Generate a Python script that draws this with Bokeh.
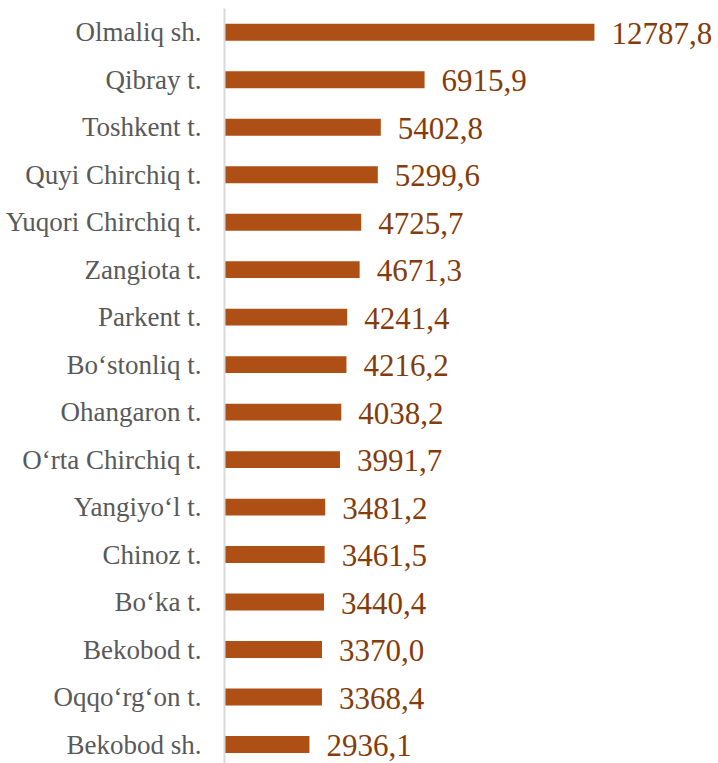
from bokeh.plotting import figure
from bokeh.models import Range1d, FixedTicker, ColumnDataSource, LabelSet
from bokeh.embed import file_html
from bokeh.resources import INLINE

categories = ["Olmaliq sh.", "Qibray t.", "Toshkent t.", "Quyi Chirchiq t.",
              "Yuqori Chirchiq t.", "Zangiota t.", "Parkent t.", "Bo\u2018stonliq t.",
              "Ohangaron t.", "O\u2018rta Chirchiq t.", "Yangiyo\u2018l t.", "Chinoz t.",
              "Bo\u2018ka t.", "Bekobod t.", "Oqqo\u2018rg\u2018on t.", "Bekobod sh."]
values = [12787.8, 6915.9, 5402.8, 5299.6, 4725.7, 4671.3, 4241.4, 4216.2,
          4038.2, 3991.7, 3481.2, 3461.5, 3440.4, 3370.0, 3368.4, 2936.1]

n = len(categories)
ypos = [n - 1 - i for i in range(n)]
labels = [f"{v:.1f}".replace(".", ",") for v in values]

src = ColumnDataSource(dict(y=ypos, v=values, lab=labels))

p = figure(width=718, height=763, output_backend="svg", toolbar_location=None,
           x_range=Range1d(0, 17076), y_range=Range1d(-0.40, n - 0.5),
           min_border_left=224, min_border_top=8, min_border_right=0, min_border_bottom=0)

p.hbar(y="y", right="v", left=0, height=0.356, source=src,
       fill_color="#AE4F15", line_color=None)

p.add_layout(LabelSet(x="v", y="y", text="lab", source=src, x_offset=17, y_offset=-1,
                      text_baseline="middle", text_align="left",
                      text_font="Liberation Serif", text_font_size="31px",
                      text_color="#843C0C"))

p.xaxis.visible = False
p.xgrid.visible = False
p.ygrid.visible = False
p.outline_line_color = None

ya = p.yaxis[0]
ya.ticker = FixedTicker(ticks=ypos)
ya.major_label_overrides = {y: c for y, c in zip(ypos, categories)}
ya.major_tick_line_color = None
ya.minor_tick_line_color = None
ya.major_tick_out = 0
ya.major_tick_in = 0
ya.major_label_standoff = 23
ya.axis_line_color = "#D9D9D9"
ya.axis_line_width = 2
ya.major_label_text_font = "Liberation Serif"
ya.major_label_text_font_size = "27px"
ya.major_label_text_color = "#595959"

open("out.html", "w").write(file_html(p, INLINE))
